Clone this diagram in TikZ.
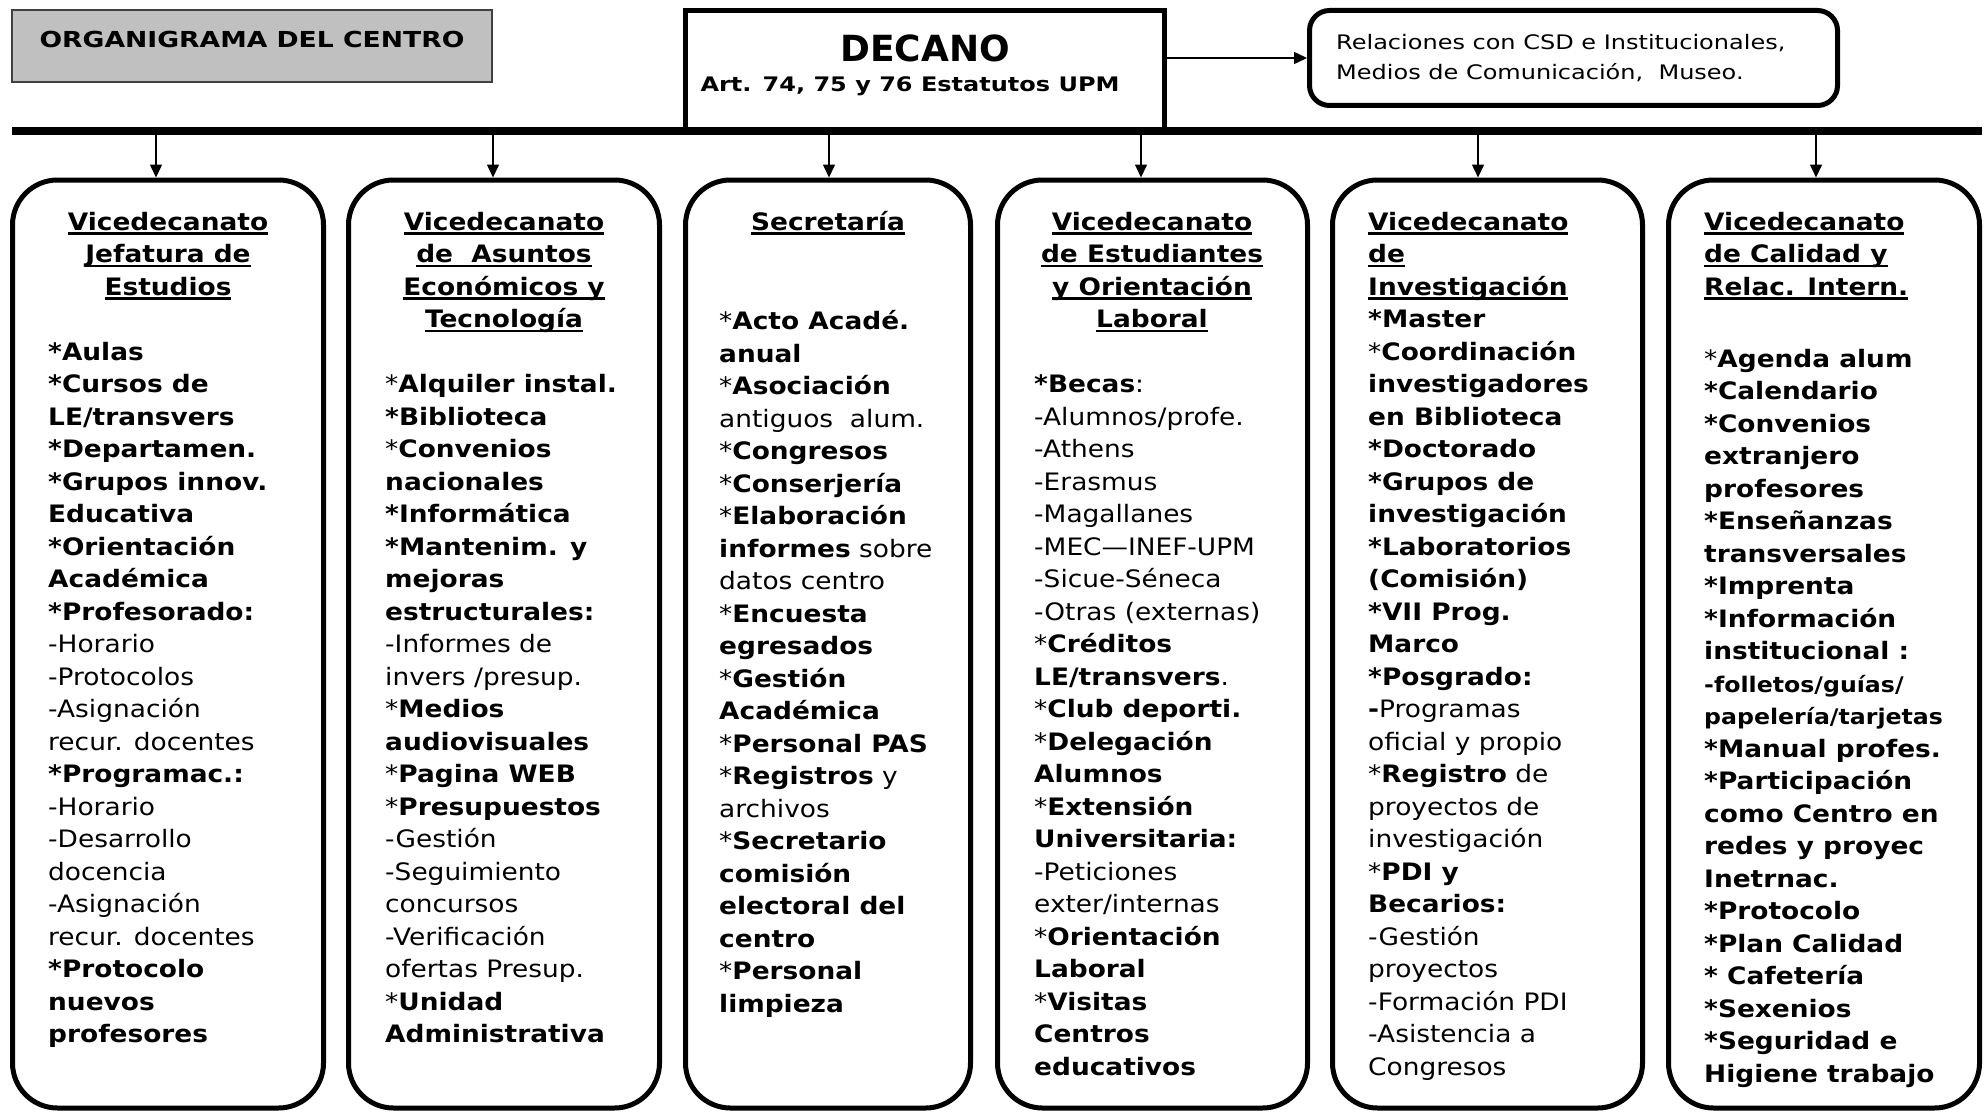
\documentclass[tikz,border=0pt]{standalone}
\usepackage{fontspec}
\setmainfont{DejaVu Sans}
\newfontfamily\cajafont[FakeStretch=1.1]{DejaVu Sans}
\newfontfamily\titfont[FakeStretch=1.21]{DejaVu Sans}
\newfontfamily\relfont[FakeStretch=1.2]{DejaVu Sans}
\usetikzlibrary{arrows.meta,positioning}

\definecolor{grisTit}{HTML}{C0C0C0}

\newcommand\subr[1]{\setbox0=\hbox{#1}\rlap{\rule[-4.5pt]{\wd0}{2.2pt}}\box0}
\newcommand\estr{*}

\tikzset{
  caja/.style={draw, line width=5pt, rounded corners=45pt, minimum height=928pt, inner sep=0pt},
  cabecera/.style={font=\cajafont\bfseries\fontsize{24}{32.5}\selectfont, align=center, anchor=base, inner sep=0pt},
  cuerpo/.style={font=\cajafont\fontsize{24}{32.5}\selectfont, align=left, anchor=base west, inner sep=0pt},
  flecha/.style={line width=1.5pt, -{Triangle[length=13pt,width=12pt]}},
}

\begin{document}
\begin{tikzpicture}[x=1pt,y=-1pt]
\useasboundingbox (0,0) rectangle (1988,1113);

% Titulo
\node[draw=black!75, fill=grisTit, line width=1.5pt, minimum width=480pt, minimum height=72pt, inner sep=0pt] (titulo) at (252,46) {};
\node[font=\titfont\bfseries\fontsize{22}{24}\selectfont, anchor=base, inner sep=0pt] (tituloTxt) at (252,48) {ORGANIGRAMA DEL CENTRO};

% Decano
\node[draw, line width=5pt, minimum width=479pt, minimum height=120pt, inner sep=0pt] (decano) at (925,71) {};
\node[font=\bfseries\fontsize{36}{40}\selectfont, inner sep=0pt] (decanoTxt) at (925,48) {DECANO};
\node[font=\relfont\bfseries\fontsize{20}{24}\selectfont, anchor=base, inner sep=0pt] (estatutos) at (910,92) {Art. 74, 75 y 76 Estatutos UPM};

% Relaciones
\node[draw, line width=5pt, rounded corners=20pt, minimum width=528pt, minimum height=95pt, inner sep=0pt] (relac) at (1573.5,58) {};
\node[font=\relfont\fontsize{20}{30}\selectfont, align=left, anchor=base west, inner sep=0pt] (relacTxt) at (1336,80) {Relaciones con CSD e Institucionales,\\Medios de Comunicación,\ \ Museo.};

\draw[flecha] (decano.east |- relac.west) -- (relac.west);

% Barra
\coordinate (barraI) at (12,131);
\coordinate (barraD) at (1982,131);
\draw[line width=8pt] (barraI) -- (barraD);

% Cajas
\node[caja, minimum width=311pt] (caja1) at (168,644) {};
\node[caja, minimum width=311pt] (caja2) at (504,644) {};
\node[caja, minimum width=285pt] (caja3) at (828,644) {};
\node[caja, minimum width=310pt] (caja4) at (1152.5,644) {};
\node[caja, minimum width=310pt] (caja5) at (1487.5,644) {};
\node[caja, minimum width=311pt] (caja6) at (1824,644) {};

% Flechas
\coordinate (s1) at (156,131);
\coordinate (s2) at (493,131);
\coordinate (s3) at (829,131);
\coordinate (s4) at (1141,131);
\coordinate (s5) at (1478,131);
\coordinate (s6) at (1816,131);
\draw[flecha] (s1) -- (s1 |- caja1.north);
\draw[flecha] (s2) -- (s2 |- caja2.north);
\draw[flecha] (s3) -- (s3 |- caja3.north);
\draw[flecha] (s4) -- (s4 |- caja4.north);
\draw[flecha] (s5) -- (s5 |- caja5.north);
\draw[flecha] (s6) -- (s6 |- caja6.north);

% Jefatura de Estudios (base = ultima linea)
\node[cabecera] (cab1) at (168,295) {\subr{Vicedecanato}\\\subr{Jefatura de}\\\subr{Estudios}};
\node[cuerpo] (txt1) at (48,1042.5) {\textbf{*Aulas}\\
\textbf{*Cursos de}\\
\textbf{LE/transvers}\\
\textbf{*Departamen.}\\
\textbf{*Grupos innov.}\\
\textbf{Educativa}\\
\textbf{*Orientación}\\
\textbf{Académica}\\
\textbf{*Profesorado:}\\
-Horario\\
-Protocolos\\
-Asignación\\
recur. docentes\\
\textbf{*Programac.:}\\
-Horario\\
-Desarrollo\\
docencia\\
-Asignación\\
recur. docentes\\
\textbf{*Protocolo}\\
\textbf{nuevos}\\
\textbf{profesores}};

% Asuntos Economicos
\node[cabecera] (cab2) at (504,327.5) {\subr{Vicedecanato}\\\subr{de\ \ Asuntos}\\\subr{Económicos y}\\\subr{Tecnología}};
\node[cuerpo] (txt2) at (385,1042.5) {\estr\textbf{Alquiler instal.}\\
\textbf{*Biblioteca}\\
\estr\textbf{Convenios}\\
\textbf{nacionales}\\
\textbf{*Informática}\\
\textbf{*Mantenim. y}\\
\textbf{mejoras}\\
\textbf{estructurales:}\\
-Informes de\\
invers /presup.\\
\estr\textbf{Medios}\\
\textbf{audiovisuales}\\
\estr\textbf{Pagina WEB}\\
\estr\textbf{Presupuestos}\\
-Gestión\\
-Seguimiento\\
concursos\\
-Verificación\\
ofertas Presup.\\
\estr\textbf{Unidad}\\
\textbf{Administrativa}};

% Secretaria
\node[cabecera] (cab3) at (828,230) {\subr{Secretaría}};
\node[cuerpo] (txt3) at (719,1012) {\estr\textbf{Acto Acadé.}\\
\textbf{anual}\\
\estr\textbf{Asociación}\\
antiguos\ \ alum.\\
\estr\textbf{Congresos}\\
\estr\textbf{Conserjería}\\
\estr\textbf{Elaboración}\\
\textbf{informes} sobre\\
datos centro\\
\estr\textbf{Encuesta}\\
\textbf{egresados}\\
\estr\textbf{Gestión}\\
\textbf{Académica}\\
\estr\textbf{Personal PAS}\\
\estr\textbf{Registros} y\\
archivos\\
\estr\textbf{Secretario}\\
\textbf{comisión}\\
\textbf{electoral del}\\
\textbf{centro}\\
\estr\textbf{Personal}\\
\textbf{limpieza}};

% Estudiantes
\node[cabecera] (cab4) at (1152,327.5) {\subr{Vicedecanato}\\\subr{de Estudiantes}\\\subr{y Orientación}\\\subr{Laboral}};
\node[cuerpo] (txt4) at (1034,1075) {\textbf{*Becas}:\\
-Alumnos/profe.\\
-Athens\\
-Erasmus\\
-Magallanes\\
-MEC—INEF-UPM\\
-Sicue-Séneca\\
-Otras (externas)\\
\estr\textbf{Créditos}\\
\textbf{LE/transvers}.\\
\estr\textbf{Club deporti.}\\
\estr\textbf{Delegación}\\
\textbf{Alumnos}\\
\estr\textbf{Extensión}\\
\textbf{Universitaria:}\\
-Peticiones\\
exter/internas\\
\estr\textbf{Orientación}\\
\textbf{Laboral}\\
\estr\textbf{Visitas}\\
\textbf{Centros}\\
\textbf{educativos}};

% Investigacion
\node[cabecera, align=left, anchor=base west] (cab5) at (1368,295) {\subr{Vicedecanato}\\\subr{de}\\\subr{Investigación}};
\node[cuerpo] (txt5) at (1368,1075) {\textbf{*Master}\\
\estr\textbf{Coordinación}\\
\textbf{investigadores}\\
\textbf{en Biblioteca}\\
\textbf{*Doctorado}\\
\textbf{*Grupos de}\\
\textbf{investigación}\\
\textbf{*Laboratorios}\\
\textbf{(Comisión)}\\
\textbf{*VII Prog.}\\
\textbf{Marco}\\
\textbf{*Posgrado:}\\
\textbf{-}Programas\\
oficial y propio\\
\estr\textbf{Registro} de\\
proyectos de\\
investigación\\
\estr\textbf{PDI y}\\
\textbf{Becarios:}\\
-Gestión\\
proyectos\\
-Formación PDI\\
-Asistencia a\\
Congresos};

% Calidad
\node[cabecera, align=left, anchor=base west] (cab6) at (1704,295) {\subr{Vicedecanato}\\\subr{de Calidad y}\\\subr{Relac. Intern.}};
\node[cuerpo] (txt6) at (1704,1082) {\estr\textbf{Agenda alum}\\
\textbf{*Calendario}\\
\textbf{*Convenios}\\
\textbf{extranjero}\\
\textbf{profesores}\\
\textbf{*Enseñanzas}\\
\textbf{transversales}\\
\textbf{*Imprenta}\\
\textbf{*Información}\\
\textbf{institucional :}\\
{\fontsize{21.5}{32.5}\selectfont\bfseries -folletos/guías/}\\
{\fontsize{21.5}{32.5}\selectfont\bfseries papelería/tarjetas}\\
\textbf{*Manual profes.}\\
\textbf{*Participación}\\
\textbf{como Centro en}\\
\textbf{redes y proyec}\\
\textbf{Inetrnac.}\\
\textbf{*Protocolo}\\
\textbf{*Plan Calidad}\\
\textbf{* Cafetería}\\
\textbf{*Sexenios}\\
\textbf{*Seguridad e}\\
\textbf{Higiene trabajo}};

\end{tikzpicture}
\end{document}
